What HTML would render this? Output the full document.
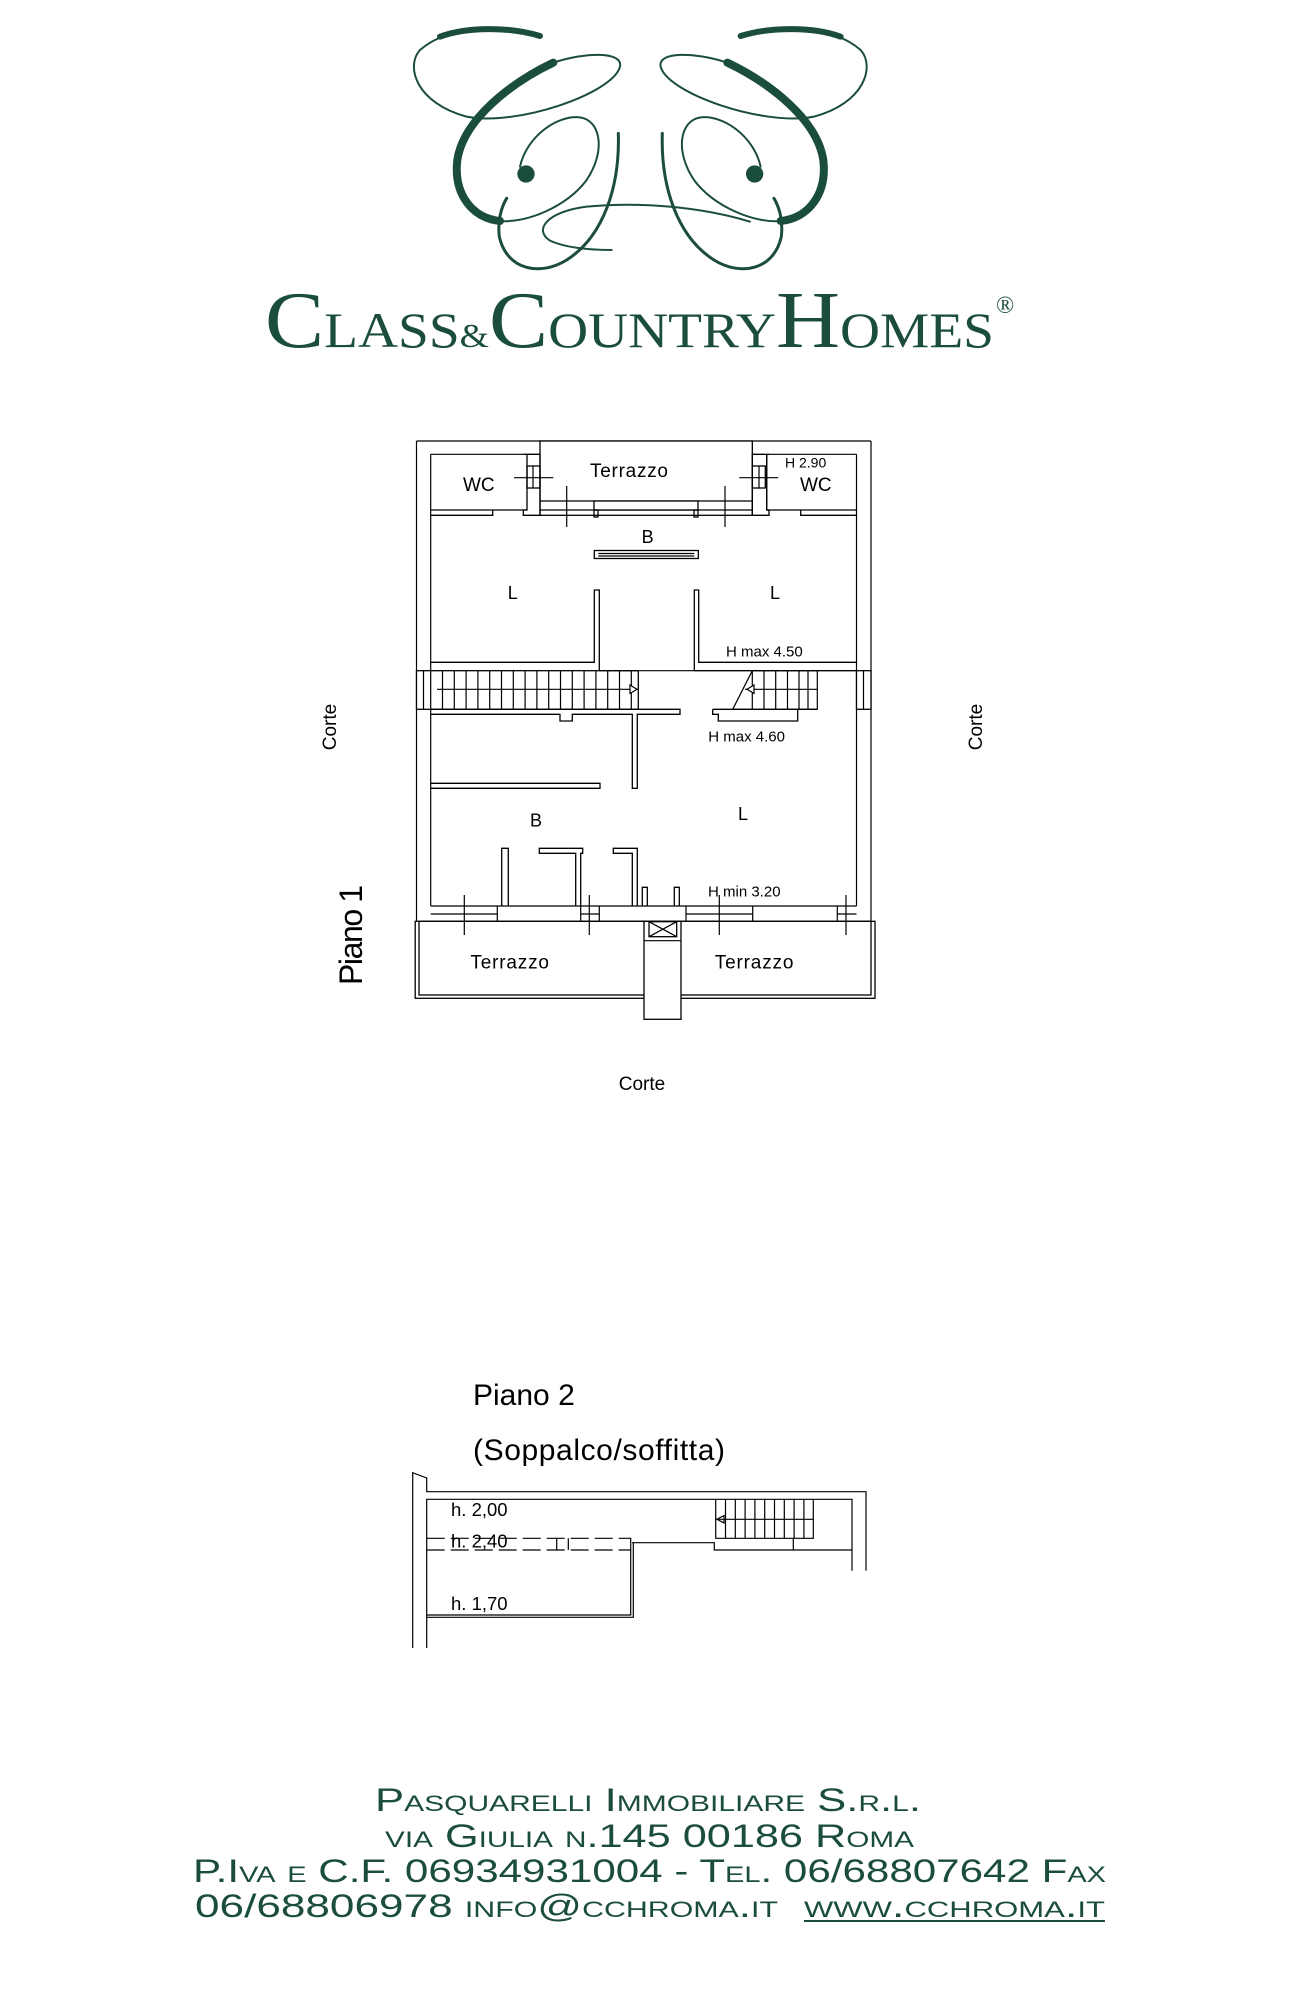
<!DOCTYPE html>
<html><head><meta charset="utf-8"><style>
html,body{margin:0;padding:0;background:#fff;}
svg{display:block;}
.t{font-family:"Liberation Sans",sans-serif;fill:#000;}
.w{fill:none;stroke:#000;stroke-width:1.3;}
.wf{fill:#fff;stroke:#000;stroke-width:1.3;}
.l{stroke:#000;stroke-width:1.2;fill:none;}
.g{font-family:"Liberation Serif",serif;fill:#1b4d3e;}
.f{font-family:"Liberation Sans",sans-serif;fill:#1b4d3e;font-variant:small-caps;font-size:32px;}
</style></head><body>
<svg width="1316" height="2008" viewBox="0 0 1316 2008" xmlns="http://www.w3.org/2000/svg">
<rect width="1316" height="2008" fill="#fff"/>

<!-- LOGO -->
<g transform="translate(400,20) scale(0.3333)" fill="none" stroke="#1b4d3e" stroke-linecap="round">
 <g id="half">
  <path d="M420,48 C330,10 150,10 60,90 C15,140 50,250 200,290 C350,320 640,220 660,140 C670,95 560,95 460,128" stroke-width="6"/>
  <path d="M460,128 C330,190 190,300 172,420 C160,520 215,595 300,603" stroke-width="24"/>
  <path d="M420,48 C330,20 200,20 120,50" stroke-width="18"/>
  <path d="M300,603 C380,610 500,560 560,480 C620,390 600,300 540,292 C470,285 380,350 360,440" stroke-width="6"/>
  <circle cx="378" cy="462" r="26" fill="#1b4d3e" stroke="none"/>
  <path d="M655,340 C660,500 610,650 500,720 C420,770 320,750 298,650 C292,600 305,560 320,535" stroke-width="9"/>
 </g>
 <use href="#half" transform="translate(1442,0) scale(-1,1)"/>
 <path d="M1050,605 C900,560 720,545 560,560 C440,575 400,630 450,662 C500,685 580,690 635,690" stroke-width="6"/>
</g>
<text class="g" x="265" y="347" textLength="729" lengthAdjust="spacingAndGlyphs"><tspan font-size="80">C</tspan><tspan font-size="50">LASS</tspan><tspan font-size="34">&amp;</tspan><tspan font-size="80">C</tspan><tspan font-size="50">OUNTRY</tspan><tspan font-size="80">H</tspan><tspan font-size="50">OMES</tspan></text>
<text class="g" x="996" y="313" font-size="24">®</text>

<!-- PIANO 1 PLAN -->
<g>
 <line class="l" x1="416.5" y1="441" x2="416.5" y2="921"/>
 <line class="l" x1="430.7" y1="454.3" x2="430.7" y2="906"/>
 <line class="l" x1="871" y1="441" x2="871" y2="921"/>
 <line class="l" x1="856.5" y1="454.3" x2="856.5" y2="906"/>
 <line class="l" x1="416.5" y1="441" x2="871" y2="441"/>
 <line class="l" x1="430.7" y1="454.3" x2="523.3" y2="454.3"/>
 <line class="l" x1="769" y1="454.3" x2="856.5" y2="454.3"/>
 <rect class="wf" x="540" y="441" width="212.3" height="74.3" stroke-width="2"/>
 <line class="l" x1="540" y1="501" x2="752.3" y2="501"/>
 <line class="l" x1="540" y1="510" x2="752.3" y2="510"/>
 <rect class="wf" x="594" y="501" width="104" height="9"/>
 <rect class="w" x="594" y="510" width="4" height="7"/>
 <rect class="w" x="694" y="510" width="4" height="7"/>
 <path class="w" d="M523.3,454.3 H540 V515.3 H523.3 V510 H527 V454.3"/>
 <rect class="w" x="527" y="466" width="13" height="22"/>
 <line class="l" x1="533" y1="466" x2="533" y2="488"/>
 <path class="w" d="M769,454.3 H752.3 V515.3 H769 V510 H766.7 V454.3"/>
 <rect class="w" x="752.3" y="466" width="13" height="22"/>
 <line class="l" x1="759" y1="466" x2="759" y2="488"/>
 <path class="w" d="M430.7,510 H526.7 M430.7,515.3 H492.7 V510"/>
 <path class="w" d="M766.7,454.3 V510 H856.5 M800.7,510 V515.3 H856.5"/>
 <line class="l" x1="566.7" y1="486" x2="566.7" y2="527"/>
 <line class="l" x1="725" y1="486" x2="725" y2="527"/>
 <line class="l" x1="514" y1="477.7" x2="553.3" y2="477.7"/>
 <line class="l" x1="739.3" y1="477.7" x2="778.3" y2="477.7"/>
 <rect class="w" x="594.3" y="550.5" width="104" height="8"/>
 <line class="l" x1="598.3" y1="553.5" x2="694.3" y2="553.5"/>
 <line class="l" x1="598.3" y1="556" x2="694.3" y2="556"/>
 <path class="w" d="M430.7,662.3 H594.3 V590 H599.3 V670.7"/>
 <path class="w" d="M856.5,662.3 H698.7 V590 H694.3 V670.7 H856.5"/>
 <rect class="wf" x="416.5" y="670.7" width="221.8" height="38.6"/>
 <line class="l" x1="430.7" y1="670.7" x2="430.7" y2="709.3"/>
 <g class="l">
  <path d="M423.5,670.7V709.3 M442.5,670.7V709.3 M454.3,670.7V709.3 M466.1,670.7V709.3 M477.9,670.7V709.3 M489.7,670.7V709.3 M501.5,670.7V709.3 M513.3,670.7V709.3 M525.1,670.7V709.3 M536.9,670.7V709.3 M548.7,670.7V709.3 M560.5,670.7V709.3 M572.3,670.7V709.3 M584.1,670.7V709.3 M595.9,670.7V709.3 M607.7,670.7V709.3 M619.5,670.7V709.3 M631.3,670.7V709.3"/>
  <path d="M437,689.3 H638"/>
  <path d="M630,685 L637,689.3 L630,693.5 Z" fill="#fff"/>
 </g>
 <line class="l" x1="599.3" y1="670.7" x2="694.3" y2="670.7"/>
 <g class="l">
  <path d="M752.3,670.7 H817.3 V709.3 H732"/>
  <path d="M752.3,670.7V709.3 M764,670.7V709.3 M775.7,670.7V709.3 M787.5,670.7V709.3 M799,670.7V709.3 M808,670.7V709.3"/>
  <path d="M745,689.3 H817.3"/>
  <path d="M732.7,709.3 L752.3,670.7"/>
  <path d="M754,685 L747,689.3 L754,693.5 Z" fill="#fff"/>
 </g>
 <rect class="wf" x="856.5" y="670.7" width="14.5" height="38.6"/>
 <line class="l" x1="863.5" y1="670.7" x2="863.5" y2="709.3"/>
 <path class="w" d="M430.7,709.3 H680 V714.3 H637.3 V788.3 H632.3 V714.3 H572.3 V721 H560 V714.3 H430.7"/>
 <path class="w" d="M712.7,709.3 H817.3 M712.7,709.3 V714.3 H718.3 V721 H797.7 V709.3"/>
 <path class="w" d="M430.7,783.3 H600 V788.3 H430.7"/>
 <path class="w" d="M501.7,906 V848.3 H508.3 V906"/>
 <path class="w" d="M575.7,906 V853.3 H539.3 V848.3 H582.7 V853.3 H580.7 V906"/>
 <path class="w" d="M632.3,906 V853.3 H613.3 V848.3 H637.3 V906"/>
 <path class="w" d="M642.3,906 V887.3 H647.3 V906"/>
 <path class="w" d="M674.3,906 V887.3 H679.3 V906"/>
 <line class="l" x1="430.7" y1="906" x2="856.5" y2="906"/>
 <line class="l" x1="430.7" y1="914" x2="497.3" y2="914"/>
 <line class="l" x1="580.7" y1="914" x2="599.3" y2="914"/>
 <line class="l" x1="686" y1="914" x2="752.7" y2="914"/>
 <line class="l" x1="837.3" y1="914" x2="856.5" y2="914"/>
 <path class="l" d="M497.3,906V921 M599.3,906V921 M686,906V921 M752.7,906V921 M837.3,906V921 M580.7,906V921"/>
 <path class="l" d="M464.3,895V935 M589.3,895V935 M719.3,895V935 M846,895V935"/>
 <rect class="wf" x="415.2" y="921.3" width="459.8" height="77"/>
 <rect class="w" x="419" y="921.3" width="452" height="73.7"/>
 <rect class="wf" x="644" y="921.3" width="37" height="98"/>
 <rect class="w" x="649" y="921.7" width="27.7" height="15"/>
 <path class="l" d="M649,921.7 L676.7,936.7 M676.7,921.7 L649,936.7"/>
 <line class="l" x1="644" y1="940.7" x2="681" y2="940.7"/>
 <path class="l" d="M464.3,921V935 M589.3,921V935 M719.3,921V935 M846,921V935"/>

 <text class="t" x="590" y="477" font-size="19" textLength="78">Terrazzo</text>
 <text class="t" x="463" y="491" font-size="19">WC</text>
 <text class="t" x="800" y="491" font-size="19">WC</text>
 <text class="t" x="785" y="467.7" font-size="14">H 2.90</text>
 <text class="t" x="647.6" y="543" font-size="18" text-anchor="middle">B</text>
 <text class="t" x="512.7" y="599" font-size="18" text-anchor="middle">L</text>
 <text class="t" x="775" y="599" font-size="18" text-anchor="middle">L</text>
 <text class="t" x="726" y="656.7" font-size="15">H max 4.50</text>
 <text class="t" x="708.3" y="741.7" font-size="15">H max 4.60</text>
 <text class="t" x="536" y="826.7" font-size="18" text-anchor="middle">B</text>
 <text class="t" x="743" y="820" font-size="18" text-anchor="middle">L</text>
 <text class="t" x="708" y="896.7" font-size="15">H min 3.20</text>
 <text class="t" x="470.4" y="968.3" font-size="19" textLength="78.6">Terrazzo</text>
 <text class="t" x="714.8" y="968.3" font-size="19" textLength="78.6">Terrazzo</text>
 <text class="t" font-size="19" transform="translate(336,727) rotate(-90)" text-anchor="middle">Corte</text>
 <text class="t" font-size="19" transform="translate(982,727) rotate(-90)" text-anchor="middle">Corte</text>
 <text class="t" font-size="32" transform="translate(362,935) rotate(-90)" text-anchor="middle" textLength="100">Piano 1</text>
 <text class="t" x="642" y="1090" font-size="19" text-anchor="middle">Corte</text>
</g>

<!-- PIANO 2 -->
<text class="t" x="473" y="1405" font-size="30">Piano 2</text>
<text class="t" x="473" y="1460" font-size="30" textLength="252">(Soppalco/soffitta)</text>
<g>
 <path class="l" d="M412.7,1648 V1472.7 L426.7,1478 V1491.7 H866 V1570.7"/>
 <path class="l" d="M426.7,1648 V1499.3 H852 V1570.7"/>
 <path class="l" d="M426.7,1538.3 H631.3 M426.7,1550 H631.3" stroke-dasharray="18,6"/>
 <path class="l" d="M556.7,1538.3V1550 M568.3,1538.3V1550"/>
 <path class="l" d="M715.7,1499.3 V1538.3 H813.3 V1499.3"/>
 <path class="l" d="M725.5,1499.3V1538.3 M735.3,1499.3V1538.3 M745.1,1499.3V1538.3 M754.9,1499.3V1538.3 M764.7,1499.3V1538.3 M774.5,1499.3V1538.3 M784.3,1499.3V1538.3 M794.1,1499.3V1538.3 M803.9,1499.3V1538.3"/>
 <path class="l" d="M716,1519.3 H813.3"/>
 <path class="l" d="M724,1515.5 L717,1519.3 L724,1523 Z" fill="#fff"/>
 <path class="l" d="M632,1542.7 H714.3 V1550 H852 M793.3,1538.3 V1550"/>
 <path class="l" d="M630.7,1538.3 V1615 H426.7 M633.3,1542.7 V1617.3 H426.7"/>
 <text class="t" x="451" y="1516" font-size="18.5">h. 2,00</text>
 <text class="t" x="451" y="1547.3" font-size="18.5">h. 2,40</text>
 <text class="t" x="451" y="1610" font-size="18.5">h. 1,70</text>
</g>

<!-- FOOTER -->
<text class="f" x="375" y="1811" textLength="546" lengthAdjust="spacingAndGlyphs">Pasquarelli Immobiliare S.r.l.</text>
<text class="f" x="385" y="1847" textLength="529" lengthAdjust="spacingAndGlyphs">via Giulia n.145  00186 Roma</text>
<text class="f" x="193" y="1882" textLength="913" lengthAdjust="spacingAndGlyphs">P.Iva e C.F. 06934931004 - Tel. 06/68807642 Fax</text>
<text class="f" x="195" y="1917" textLength="583" lengthAdjust="spacingAndGlyphs">06/68806978 info@cchroma.it</text>
<text class="f" x="804" y="1917" textLength="301" lengthAdjust="spacingAndGlyphs">www.cchroma.it</text>
<line x1="804" y1="1921" x2="1105" y2="1921" stroke="#1b4d3e" stroke-width="2"/>
</svg>
</body></html>
